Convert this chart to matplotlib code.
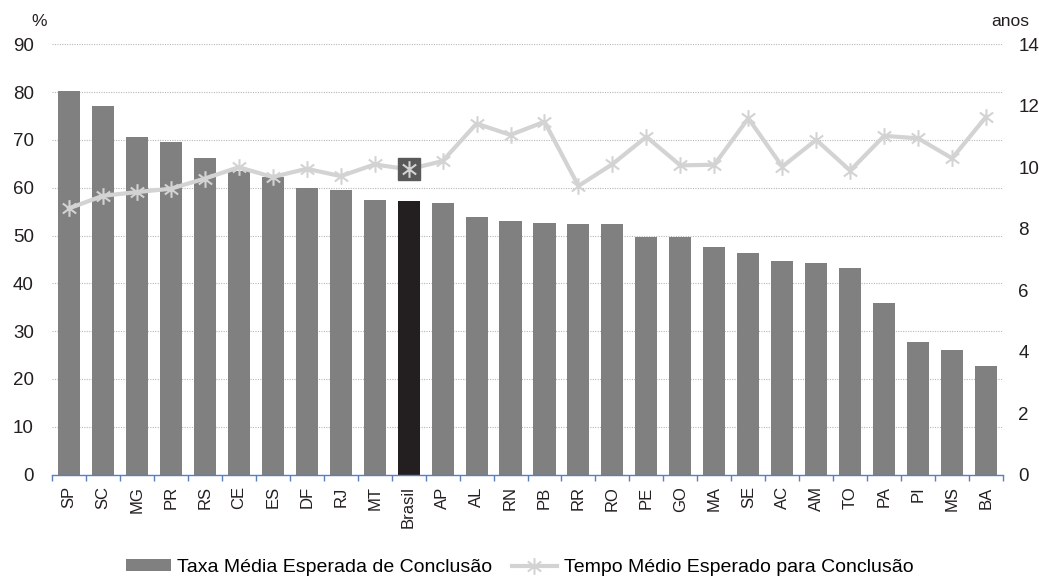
import matplotlib
matplotlib.use("Agg")
import matplotlib.pyplot as plt
from matplotlib.path import Path
from matplotlib.patches import Patch
from matplotlib.lines import Line2D
import numpy as np

plt.rcParams['font.family'] = ['Liberation Sans', 'DejaVu Sans']

categories = ["SP", "SC", "MG", "PR", "RS", "CE", "ES", "DF", "RJ", "MT", "Brasil",
              "AP", "AL", "RN", "PB", "RR", "RO", "PE", "GO", "MA", "SE", "AC",
              "AM", "TO", "PA", "PI", "MS", "BA"]
taxa = [80.2, 77.1, 70.6, 69.6, 66.2, 63.4, 62.2, 59.9, 59.5, 57.4, 57.2,
        56.8, 53.9, 53.0, 52.6, 52.4, 52.4, 49.7, 49.7, 47.6, 46.4, 44.7,
        44.3, 43.2, 35.9, 27.7, 26.0, 22.7]
tempo = [8.66, 9.07, 9.19, 9.30, 9.63, 10.00, 9.68, 9.95, 9.71, 10.09, 9.93,
         10.20, 11.42, 11.05, 11.48, 9.39, 10.10, 10.99, 10.06, 10.08, 11.59, 10.02,
         10.89, 9.89, 11.02, 10.94, 10.29, 11.64]
left_ticks = [0, 10, 20, 30, 40, 50, 60, 70, 80, 90]
right_ticks = [0, 2, 4, 6, 8, 10, 12, 14]
highlight = "Brasil"

bar_color = "#808080"
hl_color = "#231f20"
line_color = "#d3d3d3"
axis_color = "#5a7fbf"
text_color = "#231f20"

star = Path([(0, -1), (0, 1), (-0.8, -0.6), (0.8, 0.6), (-0.8, 0.6), (0.8, -0.6)],
            [Path.MOVETO, Path.LINETO, Path.MOVETO, Path.LINETO, Path.MOVETO, Path.LINETO])

fig = plt.figure(figsize=(10.39, 5.78), dpi=100)
ax = fig.add_axes([0.050, 0.179, 0.9154, 0.7444])
x = np.arange(len(categories))
colors = [hl_color if c == highlight else bar_color for c in categories]
ax.bar(x, taxa, width=0.65, color=colors, zorder=2)
ax.set_xlim(-0.5, len(categories) - 0.5)
ax.set_ylim(0, 90)
ax.set_yticks(left_ticks)
ax.set_yticklabels([str(t) for t in left_ticks], fontsize=13.5)
for t in left_ticks[1:]:
    ax.axhline(t, color="#b8b8b8", lw=0.8, ls=(0, (1, 1.2)), zorder=1)
for s in ["top", "right", "left"]:
    ax.spines[s].set_visible(False)
ax.spines["bottom"].set_color(axis_color)
ax.spines["bottom"].set_linewidth(1.0)
ax.tick_params(axis="y", length=0, pad=13, colors=text_color)
ax.set_xticks(x)
ax.set_xticklabels(categories, rotation=90, fontsize=12)
ax.tick_params(axis="x", which="major", length=0, pad=8.5, colors=text_color)
ax.set_xticks(np.arange(-0.5, len(categories)), minor=True)
ax.tick_params(axis="x", which="minor", length=4, color=axis_color, width=1)

ax2 = ax.twinx()
ax2.set_ylim(0, 14)
ax2.set_yticks(right_ticks)
ax2.set_yticklabels([str(t) for t in right_ticks], fontsize=13.5)
for s in ["top", "right", "left", "bottom"]:
    ax2.spines[s].set_visible(False)
ax2.tick_params(axis="y", length=0, pad=11, colors=text_color)
ax2.plot(x, tempo, color=line_color, lw=3, marker=star, markersize=12,
         markeredgewidth=1.5, markeredgecolor=line_color, zorder=3)
hi = categories.index(highlight)
ax2.plot([x[hi]], [tempo[hi]], marker="s", markersize=15.5, color="#595959",
         markeredgecolor="#595959", zorder=4)
ax2.plot([x[hi]], [tempo[hi]], marker=star, markersize=12, markeredgewidth=1.5,
         color=line_color, markeredgecolor=line_color, linestyle="none", zorder=5)

fig.text(0.030, 0.955, "%", fontsize=12.5, color=text_color)
fig.text(0.954, 0.955, "anos", fontsize=12.5, color=text_color)

handles = [Patch(facecolor=bar_color, edgecolor="none"),
           Line2D([0], [0], color=line_color, lw=3, marker=star, markersize=12,
                  markeredgewidth=1.5, markeredgecolor=line_color)]
fig.legend(handles, ["Taxa Média Esperada de Conclusão", "Tempo Médio Esperado para Conclusão"],
           loc="center", bbox_to_anchor=(0.5, 0.018), ncol=2, frameon=False,
           fontsize=14, handlelength=2.3, handleheight=0.6, handletextpad=0.35,
           columnspacing=1.0, borderpad=0, borderaxespad=0)

fig.savefig("out.png", dpi=100)
